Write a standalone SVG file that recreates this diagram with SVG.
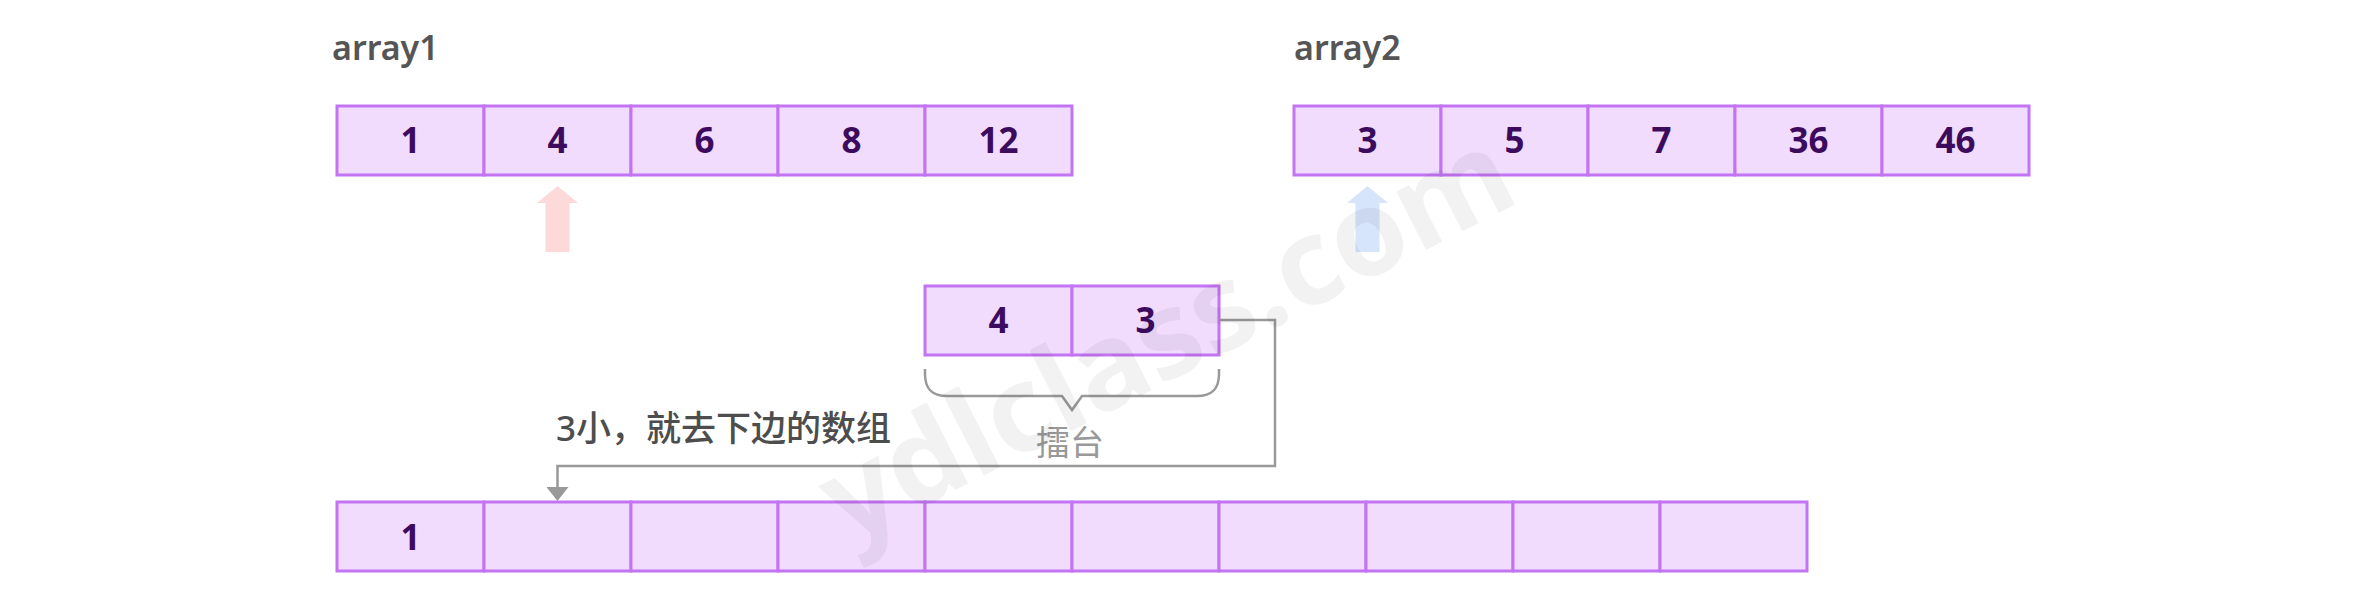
<svg xmlns="http://www.w3.org/2000/svg" width="2364" height="609" viewBox="0 0 2364 609">
<style>
.cell{fill:#f1dcfe;stroke:#c374f2;stroke-width:3}
.num{font-family:"Noto Sans","Liberation Sans",sans-serif;font-weight:700;font-size:35px;fill:#3c0b5e;text-anchor:middle}
.title{font-family:"Noto Sans","Liberation Sans",sans-serif;font-weight:600;font-size:34px;fill:#555555}
.note{font-family:"Noto Sans","Noto Sans CJK SC",sans-serif;font-weight:500;font-size:35px;fill:#4d4d4d}
.brlabel{font-family:"Noto Sans CJK SC","Noto Sans",sans-serif;font-weight:400;font-size:34px;fill:#999999;text-anchor:middle}
.conn{fill:none;stroke:#999999;stroke-width:2.5}
.wm{font-family:"Noto Sans","Liberation Sans",sans-serif;font-weight:700;font-size:120px;fill:#000000;fill-opacity:0.05;text-anchor:middle}
</style>
<defs>
<marker id="arrow" viewBox="0 0 14 22" refX="0" refY="11" markerWidth="14" markerHeight="22" markerUnits="userSpaceOnUse" orient="auto">
<path d="M0,0 L14,11 L0,22 z" fill="#999999"/>
</marker>
</defs>
<rect width="2364" height="609" fill="#ffffff"/>

<g id="array1">
<text class="title" x="332" y="60">array1</text>
<rect class="cell" x="337" y="106" width="147" height="69"/>
<rect class="cell" x="484" y="106" width="147" height="69"/>
<rect class="cell" x="631" y="106" width="147" height="69"/>
<rect class="cell" x="778" y="106" width="147" height="69"/>
<rect class="cell" x="925" y="106" width="147" height="69"/>
<text class="num" x="410.5" y="153">1</text>
<text class="num" x="557.5" y="153">4</text>
<text class="num" x="704.5" y="153">6</text>
<text class="num" x="851.5" y="153">8</text>
<text class="num" x="998.5" y="153">12</text>
</g>

<g id="array2">
<text class="title" x="1294" y="60">array2</text>
<rect class="cell" x="1294" y="106" width="147" height="69"/>
<rect class="cell" x="1441" y="106" width="147" height="69"/>
<rect class="cell" x="1588" y="106" width="147" height="69"/>
<rect class="cell" x="1735" y="106" width="147" height="69"/>
<rect class="cell" x="1882" y="106" width="147" height="69"/>
<text class="num" x="1367.5" y="153">3</text>
<text class="num" x="1514.5" y="153">5</text>
<text class="num" x="1661.5" y="153">7</text>
<text class="num" x="1808.5" y="153">36</text>
<text class="num" x="1955.5" y="153">46</text>
</g>

<g id="pointer1">
<polygon points="557.5,186 578,203 569.5,203 569.5,252 545.5,252 545.5,203 537,203" fill="#fdd9d9"/>
</g>
<g id="pointer2">
<polygon points="1367.5,186 1388,203 1379.5,203 1379.5,252 1355.5,252 1355.5,203 1347,203" fill="#d6e4fc"/>
</g>

<g id="stage">
<rect class="cell" x="925" y="286" width="147" height="69"/>
<rect class="cell" x="1072" y="286" width="147" height="69"/>
<text class="num" x="998.5" y="333">4</text>
<text class="num" x="1145.5" y="333">3</text>
</g>

<g id="stage-brace">
<path class="conn" d="M925,369 V374 C925,389 932,396 947,396 H1062 L1072,410 L1082,396 H1197 C1212,396 1219,389 1219,374 V369"/>
<text class="brlabel" x="1070" y="455">擂台</text>
</g>

<g id="note">
<text class="note" x="556" y="441">3小，就去下边的数组</text>
</g>

<g id="result">
<rect class="cell" x="337" y="502" width="147" height="69"/>
<rect class="cell" x="484" y="502" width="147" height="69"/>
<rect class="cell" x="631" y="502" width="147" height="69"/>
<rect class="cell" x="778" y="502" width="147" height="69"/>
<rect class="cell" x="925" y="502" width="147" height="69"/>
<rect class="cell" x="1072" y="502" width="147" height="69"/>
<rect class="cell" x="1219" y="502" width="147" height="69"/>
<rect class="cell" x="1366" y="502" width="147" height="69"/>
<rect class="cell" x="1513" y="502" width="147" height="69"/>
<rect class="cell" x="1660" y="502" width="147" height="69"/>
<text class="num" x="410.5" y="550">1</text>
</g>

<g id="connectors">
<path class="conn" d="M1219,320 H1275 V466 H557.5 V487" marker-end="url(#arrow)"/>
</g>

<g id="watermark">
<text class="wm" transform="translate(1185,373) rotate(-27)" x="0" y="0">ydlclass.com</text>
</g>
</svg>
